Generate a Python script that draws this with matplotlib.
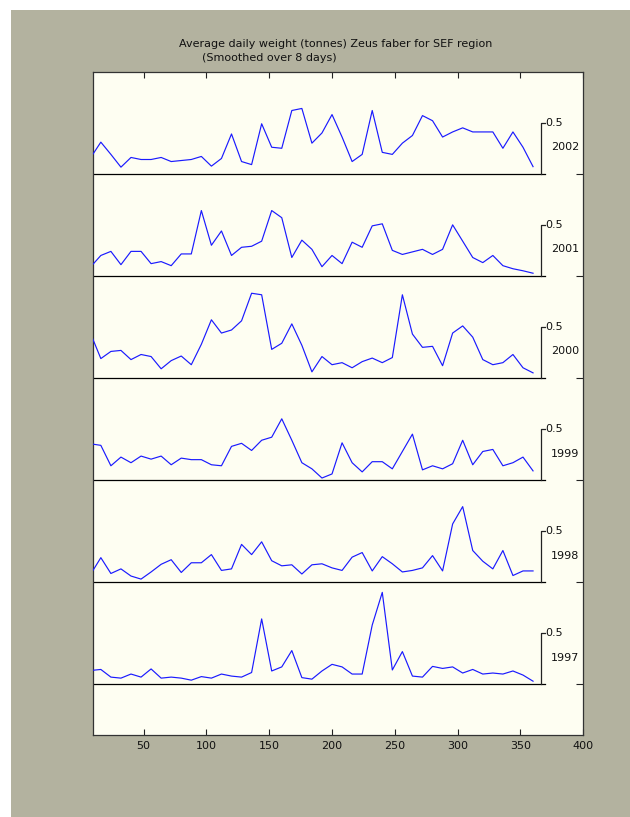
import matplotlib
matplotlib.use("Agg")
import matplotlib.pyplot as plt
from matplotlib.patches import Rectangle

days = list(range(8, 361, 8))

years = ["2002", "2001", "2000", "1999", "1998", "1997"]

w2002 = [0.16, 0.31, 0.19, 0.065, 0.16, 0.14, 0.14, 0.16, 0.12, 0.13, 0.14, 0.17, 0.075, 0.15, 0.39,
         0.12, 0.09, 0.49, 0.26, 0.25, 0.62, 0.64, 0.30, 0.40, 0.58, 0.36, 0.12, 0.19, 0.62, 0.21,
         0.19, 0.30, 0.375, 0.57, 0.52, 0.36, 0.41, 0.45, 0.41, 0.41, 0.41, 0.25, 0.41, 0.26, 0.07]
w2001 = [0.09, 0.20, 0.24, 0.11, 0.24, 0.24, 0.12, 0.14, 0.10, 0.215, 0.215, 0.64, 0.30, 0.44, 0.20,
         0.28, 0.29, 0.34, 0.64, 0.57, 0.18, 0.35, 0.26, 0.09, 0.20, 0.12, 0.33, 0.28, 0.49, 0.51,
         0.25, 0.21, 0.235, 0.26, 0.21, 0.26, 0.50, 0.34, 0.18, 0.13, 0.20, 0.10, 0.07, 0.05, 0.026]
w2000 = [0.43, 0.19, 0.26, 0.27, 0.18, 0.23, 0.21, 0.09, 0.17, 0.215, 0.13, 0.33, 0.57, 0.44, 0.47,
         0.56, 0.83, 0.815, 0.28, 0.34, 0.53, 0.32, 0.06, 0.21, 0.13, 0.15, 0.10, 0.16, 0.195, 0.15,
         0.20, 0.815, 0.43, 0.30, 0.31, 0.12, 0.44, 0.51, 0.40, 0.18, 0.13, 0.15, 0.23, 0.10, 0.05]
w1999 = [0.355, 0.34, 0.14, 0.225, 0.17, 0.235, 0.205, 0.235, 0.15, 0.215, 0.20, 0.20, 0.15, 0.14, 0.33,
         0.36, 0.29, 0.39, 0.42, 0.60, 0.39, 0.17, 0.11, 0.02, 0.06, 0.365, 0.17, 0.08, 0.18, 0.18,
         0.11, 0.28, 0.45, 0.10, 0.14, 0.11, 0.16, 0.39, 0.15, 0.28, 0.30, 0.14, 0.17, 0.225, 0.09]
w1998 = [0.08, 0.24, 0.085, 0.13, 0.06, 0.03, 0.10, 0.175, 0.22, 0.095, 0.19, 0.19, 0.27, 0.115, 0.13,
         0.37, 0.27, 0.395, 0.21, 0.16, 0.17, 0.08, 0.17, 0.18, 0.14, 0.115, 0.245, 0.29, 0.11, 0.25,
         0.18, 0.10, 0.115, 0.14, 0.26, 0.11, 0.57, 0.74, 0.31, 0.205, 0.13, 0.31, 0.065, 0.11, 0.11]
w1997 = [0.135, 0.145, 0.07, 0.06, 0.10, 0.07, 0.15, 0.06, 0.07, 0.06, 0.04, 0.075, 0.06, 0.10, 0.08,
         0.07, 0.115, 0.64, 0.13, 0.17, 0.33, 0.065, 0.05, 0.13, 0.195, 0.17, 0.10, 0.10, 0.58, 0.90,
         0.14, 0.32, 0.08, 0.07, 0.175, 0.155, 0.17, 0.11, 0.145, 0.10, 0.11, 0.10, 0.13, 0.09, 0.03]

series = [w2002, w2001, w2000, w1999, w1998, w1997]
offsets = [5, 4, 3, 2, 1, 0]
xticks = [50, 100, 150, 200, 250, 300, 350, 400]

FONT = "DejaVu Sans"
FS = 8.0
fig = plt.figure(figsize=(6.30, 8.17), dpi=100, facecolor="white")
fig.patches.append(Rectangle((11 / 630, 0), 1 - 11 / 630, 1 - 10 / 817,
                             transform=fig.transFigure, facecolor="#B3B29F",
                             edgecolor="none", zorder=-10))

ax = fig.add_axes([93.3 / 630, 1 - 735.3 / 817, 490 / 630, 663.6 / 817])
ax.set_facecolor("#FEFEF2")
ax.set_xlim(10, 400)
ax.set_ylim(-0.5, 6)

for vals, off, yr in zip(series, offsets, years):
    ax.plot(days, [v + off for v in vals], color="#1A1AFF", lw=0.85, zorder=3)
    ax.plot([10, 369.4], [off, off], color="black", lw=0.9, zorder=2)
    ax.plot([366.3, 366.3, 369.4], [off, off + 0.5, off + 0.5], color="#222222", lw=0.9, zorder=2)
    ax.text(369.6, off + 0.5, "0.5", fontsize=FS, family=FONT, va="center", ha="left", color="#111111")
    ax.text(374, off + 0.26, yr, fontsize=FS, family=FONT, va="center", ha="left", color="#111111")

ax.set_xticks(xticks)
ax.set_xticklabels([str(t) for t in xticks], family=FONT, fontsize=FS)
ax.tick_params(axis="x", direction="in", top=True, bottom=True, length=4.5, width=0.8,
               pad=4, colors="#222222", labelcolor="#111111")
ax.set_yticks(offsets)
ax.set_yticklabels([])
ax.tick_params(axis="y", direction="in", left=False, right=True, length=4.8, width=0.8,
               colors="#222222")
for s in ax.spines.values():
    s.set_color("#333333")
    s.set_linewidth(0.9)

fig.text(335.3 / 630, 1 - 44 / 817, "Average daily weight (tonnes) Zeus faber for SEF region",
         family=FONT, fontsize=FS, ha="center", va="center", color="#111111")
fig.text(202.3 / 630, 1 - 58.3 / 817, "(Smoothed over 8 days)",
         family=FONT, fontsize=FS, ha="left", va="center", color="#111111")

fig.savefig("out.png", dpi=100, facecolor=fig.get_facecolor())
